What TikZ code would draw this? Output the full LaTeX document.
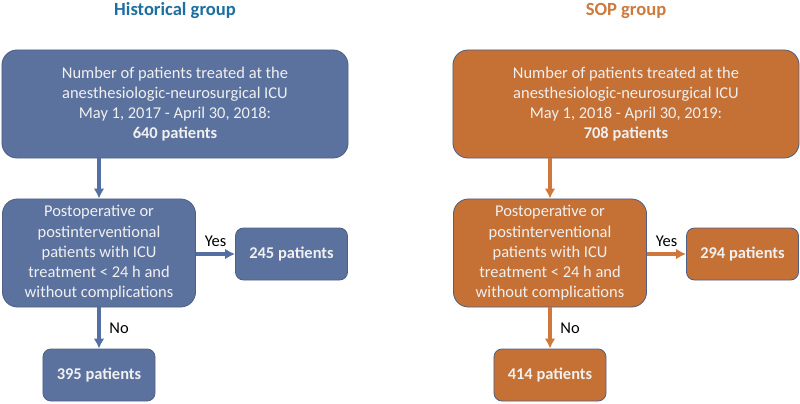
\documentclass[tikz,border=0pt]{standalone}
\usepackage{fontspec}
\setmainfont{Carlito}
\usetikzlibrary{positioning,arrows.meta}
\definecolor{histfill}{RGB}{91,114,159}
\definecolor{histtitle}{RGB}{30,110,160}
\definecolor{histarrow}{RGB}{84,112,163}
\definecolor{sopfill}{RGB}{197,112,52}
\definecolor{soptitle}{RGB}{205,122,60}
\definecolor{soparrow}{RGB}{208,120,60}
\definecolor{boxline}{RGB}{80,96,132}
\begin{document}
\begin{tikzpicture}[x=0.025cm,y=-0.025cm,>={Latex[length=7pt,width=7.5pt]}]
	\tikzset{
		flowbox/.style={draw=boxline, line width=0.6pt, text=white!94!black, align=center,
				font=\fontsize{11.7}{14.4}\selectfont, inner sep=0pt},
		bigbox/.style={flowbox, rounded corners=0.375cm, minimum width=8.65cm, minimum height=2.7cm},
		midbox/.style={flowbox, rounded corners=0.375cm, minimum width=4.825cm, minimum height=2.7cm},
		countbox/.style={flowbox, rounded corners=0.2cm, minimum width=2.8cm, minimum height=1.3cm,
				font=\fontsize{11.7}{14.4}\selectfont\bfseries},
		grouptitle/.style={font=\fontsize{13.2}{16}\selectfont\bfseries},
		flowarrow/.style={->, line width=2.2pt},
		answer/.style={text=black, font=\fontsize{11.7}{14.4}\selectfont},
	}
	\useasboundingbox (0,0) rectangle (800,403);
	\foreach \g/\dx/\fcol/\tcol/\acol/\title/\from/\to/\total/\yes/\no in
		{hist/0/histfill/histtitle/histarrow/Historical group/2017/2018/640/245/395,
		 sop/451/sopfill/soptitle/soparrow/SOP group/2018/2019/708/294/414}
		{
			\node[grouptitle, text=\tcol] (\g-title) at (175+\dx, 11) {\title};
			\node[bigbox, fill=\fcol] (\g-top) at (175+\dx, 104)
				{Number of patients treated at the\\anesthesiologic-neurosurgical ICU\\
				 May 1, \from{} - April 30, \to:\\\textbf{\total{} patients}};
			\node[midbox, fill=\fcol] (\g-mid) at (99+\dx, 253)
				{Postoperative or\\postinterventional\\patients with ICU\\treatment < 24 h and\\without complications};
			\node[countbox, fill=\fcol] (\g-yes) at (291.5+\dx, 254) {\yes{} patients};
			\node[countbox, fill=\fcol] (\g-no) at (99+\dx, 375) {\no{} patients};
			% connectors
			\draw[flowarrow, \acol] (\g-top.south -| \g-mid) -- (\g-mid);
			\draw[flowarrow, \acol] (\g-mid.east |- \g-yes) -- node[answer, above=1pt] {Yes} (\g-yes);
			\draw[flowarrow, \acol] (\g-mid) -- node[answer, right=3pt] {No} (\g-no);
		}
\end{tikzpicture}
\end{document}
